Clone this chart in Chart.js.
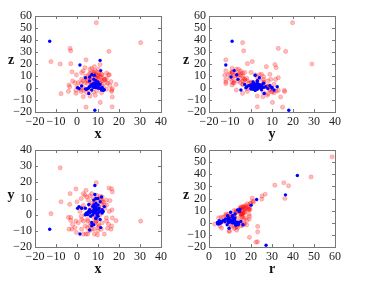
<!DOCTYPE html>
<html>
<head>
<meta charset="utf-8">
<script src="https://cdn.jsdelivr.net/npm/chart.js@4.4.0/dist/chart.umd.min.js"></script>
<style>
  html, body { margin: 0; padding: 0; background: #fff; }
  #wrap { position: relative; width: 375px; height: 284px; overflow: hidden; }
  #wrap canvas { position: absolute; left: 0; top: 0; }
  .lbl { position: absolute; font: bold 14px "Liberation Serif", serif; color: #111; transform: translate(-50%, -50%); }
</style>
</head>
<body>
<div id="wrap">
  <canvas id="c1" width="375" height="284"></canvas>
  <canvas id="c2" width="375" height="284"></canvas>
  <canvas id="c3" width="375" height="284"></canvas>
  <canvas id="c4" width="375" height="284"></canvas>
  <span class="lbl" style="left:11px;top:60px">z</span>
  <span class="lbl" style="left:98px;top:134px">x</span>
  <span class="lbl" style="left:186px;top:60px">z</span>
  <span class="lbl" style="left:272px;top:134px">y</span>
  <span class="lbl" style="left:11px;top:195px">y</span>
  <span class="lbl" style="left:98px;top:269px">x</span>
  <span class="lbl" style="left:186px;top:195px">z</span>
  <span class="lbl" style="left:272px;top:269px">r</span>
</div>
<script>
// red sample: x, y, z of each point
const redX = [9.2, 30.3, -3, -3.3, 15.2, -8, -12.4, 4.3, -3, 8.3,
  3.8, 11, -2.4, 9.7, 14.6, 16.7, 4.3, 11.1, 16.8, 8.7,
  3, -7.6, 16.5, 18.6, -3.5, -0.5, 15.7,
  8, 9, 7, 10, 6, 12, 5, 11, 9, 7,
  13, 14, 15, 8, 4, 3, 2, 0.6, -1, -2.1,
  -0.3, 2.2, 6.2, 10.2, 8.6, 3, 7.8, 11.7, 14.1, 15.4,
  13.3, 14.1, 12.5, 10.2, 7, 5.4, 3, 4.6, 7.8, 9.4,
  11.7, 6.2, 1.4, -0.5, -4.1, -3.8, 16.8, 16.5, 16.2, 11,
  9.4, 6.2, 3.8, 2.2, 7, 8.3, 5.1, 12, 10, 13,
  9, 6, 11, 12, 3, 0, 2, 14, 9, 8,
  5, 10, 5, 7, 10.5, 8.5, 6.5, 11.5];
const redY = [19.8, -4, -3.5, 13, 16.5, 29, 0.6, -12, -1.7, 7.3,
  12, 11.4, -9, -12.5, -8.5, 3, 15, 10.2, 14.1, 7.8,
  5.7, 8, 16, -3.7, 6.4, 15.9, 8.7,
  -2, -4, -6, -8, -10, -5, -3, 0, 2, 3,
  6, -2, -6, -9, -7, -4, -1, -5, -8, -6,
  -11, -9, -7, -6, -5, -12, 5, 9, -4, 2,
  4, 6, 8, 5, 7, 9, 4, 11, 10, 12,
  6, 3, 2, -4, -1.7, -9, -2, -7, -9, 1,
  9.4, 11.7, 0, -3, 13, -12, -4, 8, -10, -12,
  -4, 6, 3, 11, 13, 8, 10, 9, 4, 0,
  -8, -3, -12, -9, -7, 6, -5, -9];
const redZ = [54.4, 37.8, 31, 33, 30.5, 20, 22, 23.5, 20.3, 17.8,
  17, 19.5, 13.5, 10.6, 4, -15.7, -16, -12, -7.5, -6.1,
  -7.2, -4.7, -3, 3, 1, -2, 2,
  6, 8, 9, 10, 12, 11, 7, 5, 4, 3,
  7, 8, 11, 13, 10, 6, 4, 4.4, 4.4, 5.8,
  11, 12.8, 15.6, 15.6, 14.2, 14.2, 11.4, 11.4, 12.5, 11,
  7.2, 4.4, 1.1, 0.3, 1.7, -1.7, 0.3, -3.9, -3.3, -2.5,
  -3.9, -6.7, -1.1, -4.4, -2.8, 2.5, -0.6, -1.7, 5.3, 4.4,
  7.2, 7.2, 4.4, 7.2, 8.6, 5, 10, 6, 8, 7,
  3, 5, 9, 3, -2, 1, -3, -1, 11, 13,
  6, 13, 3.6, 16.4, 12, 9.5, 12.5, 9];

// blue sample
const blueX = [-13, 8.5, 11, 1.4, 11.3, 6, 5.6,
  9, 8, 10, 9.5, 8.5, 7, 10, 11, 9, 8,
  7.5, 10.5, 9, 8, 6, 5, 4.5, 4, 5.5, 6.5,
  12, 13, 11, 10, 12, 9, 7, 8, 7, 9,
  10, 9, 8.3, 4, 0.3, 1, 2.2, 11, 11.7, 10,
  8, 12.5, 8.5, 9, 6, 7.5, 8.8, 9.7];
const blueY = [-9, 18, -26, -12, -8, -9.5, 6.3,
  2, 1, 3, 0, 4, 2, -1, 2, 5, 3,
  0, 4, -2, 6, 1, 0, 1, 0, 2, -1,
  3, 5, 8, 10, 1, 7, -6.8, -6.2, -4.8, -2.4,
  1, 3, 2, 4, 4, 5, 4, -3, 11, 6,
  9, 2, 12.5, 10, 3, 5, 1.5, 3.5];
const blueZ = [39, -18.5, 23, 19.2, 14.5, 9.2, -4.5,
  2, 3, 1, 2.5, 1.5, 3, 2, 0, 2, 4,
  1, 3, 1, 0.5, 1, -0.5, -1, -0.8, 0, 2,
  -1, -1.5, -0.5, 0, 0.5, 1, 11, 7.2, -1.7, 0.3,
  5, 6, 10.6, 8.6, 0.3, -0.5, 1.7, 3, -1.7, 4,
  2, -2, 1, 0.5, 5.8, 2.5, 3.5, 2.2];

// r is the distance of each point from the origin
const redR = redX.map((v, i) => Math.hypot(v, redY[i], redZ[i]));
const blueR = blueX.map((v, i) => Math.hypot(v, blueY[i], blueZ[i]));

function pairs(a, b) {
  return a.map((v, i) => ({ x: v, y: b[i] }));
}

const fmt = v => (v < 0 ? "\u2212" + Math.abs(v) : String(v));
const tickFont = { family: "Liberation Serif", size: 12 };

// box round the plot and little inward ticks on all four sides
const frame = {
  id: "frame",
  afterDatasetsDraw(chart) {
    const { ctx, chartArea: a, scales } = chart;
    ctx.save();
    ctx.strokeStyle = "#777";
    ctx.lineWidth = 1;
    ctx.beginPath();
    scales.x.ticks.forEach(t => {
      const px = Math.round(scales.x.getPixelForValue(t.value)) + 0.5;
      ctx.moveTo(px, a.bottom); ctx.lineTo(px, a.bottom - 3);
      ctx.moveTo(px, a.top); ctx.lineTo(px, a.top + 3);
    });
    scales.y.ticks.forEach(t => {
      const py = Math.round(scales.y.getPixelForValue(t.value)) + 0.5;
      ctx.moveTo(a.left, py); ctx.lineTo(a.left + 3, py);
      ctx.moveTo(a.right, py); ctx.lineTo(a.right - 3, py);
    });
    ctx.stroke();
    ctx.strokeRect(Math.round(a.left) + 0.5, Math.round(a.top) + 0.5,
      Math.round(a.right - a.left), Math.round(a.bottom - a.top));
    ctx.restore();
  }
};

function axis(min, max, fit) {
  return {
    type: "linear", min: min, max: max,
    afterFit: fit,
    grid: { display: false, drawTicks: false },
    border: { display: false },
    ticks: { stepSize: 10, autoSkip: false, maxRotation: 0, padding: 3,
      font: tickFont, color: "#222", callback: fmt }
  };
}

function makePanel(id, box, xMin, xMax, yMin, yMax, redPts, bluePts) {
  new Chart(document.getElementById(id), {
    type: "scatter",
    data: {
      datasets: [
        { data: bluePts, order: 0, pointRadius: 1.7, pointBorderWidth: 0,
          backgroundColor: "#0000ff", borderColor: "#0000ff" },
        { data: redPts, order: 1, pointRadius: 2.1, pointBorderWidth: 0.7,
          backgroundColor: "rgba(255,0,0,0.26)", borderColor: "rgba(255,0,0,0.3)" }
      ]
    },
    options: {
      responsive: false,
      animation: false,
      events: [],
      layout: {
        autoPadding: false,
        padding: { left: box.l - 30, top: box.t, right: 375 - box.r, bottom: 284 - box.b - 20 }
      },
      plugins: { legend: { display: false }, tooltip: { enabled: false } },
      scales: {
        x: axis(xMin, xMax, s => { s.height = 20; }),
        y: axis(yMin, yMax, s => { s.width = 30; })
      }
    },
    plugins: [frame]
  });
}

makePanel("c1", { l: 35, t: 16, r: 161, b: 112 }, -20, 40, -20, 60,
  pairs(redX, redZ), pairs(blueX, blueZ));
makePanel("c2", { l: 209, t: 16, r: 335, b: 112 }, -20, 40, -20, 60,
  pairs(redY, redZ), pairs(blueY, blueZ));
makePanel("c3", { l: 35, t: 150, r: 161, b: 247 }, -20, 40, -20, 40,
  pairs(redX, redY), pairs(blueX, blueY));
makePanel("c4", { l: 209, t: 150, r: 335, b: 247 }, 0, 60, -20, 60,
  pairs(redR, redZ), pairs(blueR, blueZ));
</script>
</body>
</html>
